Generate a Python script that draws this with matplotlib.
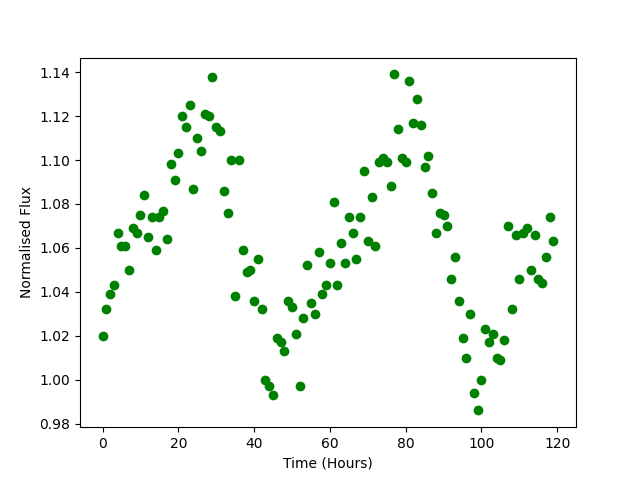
import matplotlib
matplotlib.use("Agg")
import matplotlib.pyplot as plt
import numpy as np

hours = np.arange(120)
flux = [1.020, 1.032, 1.039, 1.043, 1.067, 1.061, 1.061, 1.050, 1.069, 1.067,
        1.075, 1.084, 1.065, 1.074, 1.059, 1.074, 1.077, 1.064, 1.098, 1.091,
        1.103, 1.120, 1.115, 1.125, 1.087, 1.110, 1.104, 1.121, 1.120, 1.138,
        1.115, 1.113, 1.086, 1.076, 1.100, 1.038, 1.100, 1.059, 1.049, 1.050,
        1.036, 1.055, 1.032, 1.000, 0.997, 0.993, 1.019, 1.017, 1.013, 1.036,
        1.033, 1.021, 0.997, 1.028, 1.052, 1.035, 1.030, 1.058, 1.039, 1.043,
        1.053, 1.081, 1.043, 1.062, 1.053, 1.074, 1.067, 1.055, 1.074, 1.095,
        1.063, 1.083, 1.061, 1.099, 1.101, 1.099, 1.088, 1.139, 1.114, 1.101,
        1.099, 1.136, 1.117, 1.128, 1.116, 1.097, 1.102, 1.085, 1.067, 1.076,
        1.075, 1.070, 1.046, 1.056, 1.036, 1.019, 1.010, 1.030, 0.994, 0.986,
        1.000, 1.023, 1.017, 1.021, 1.010, 1.009, 1.018, 1.070, 1.032, 1.066,
        1.046, 1.067, 1.069, 1.050, 1.066, 1.046, 1.044, 1.056, 1.074, 1.063]

fig, ax = plt.subplots(figsize=(6.4, 4.8), dpi=100)
ax.plot(hours, flux, 'go')
ax.set_xlabel('Time (Hours)')
ax.set_ylabel('Normalised Flux')
fig.savefig('out.png')
